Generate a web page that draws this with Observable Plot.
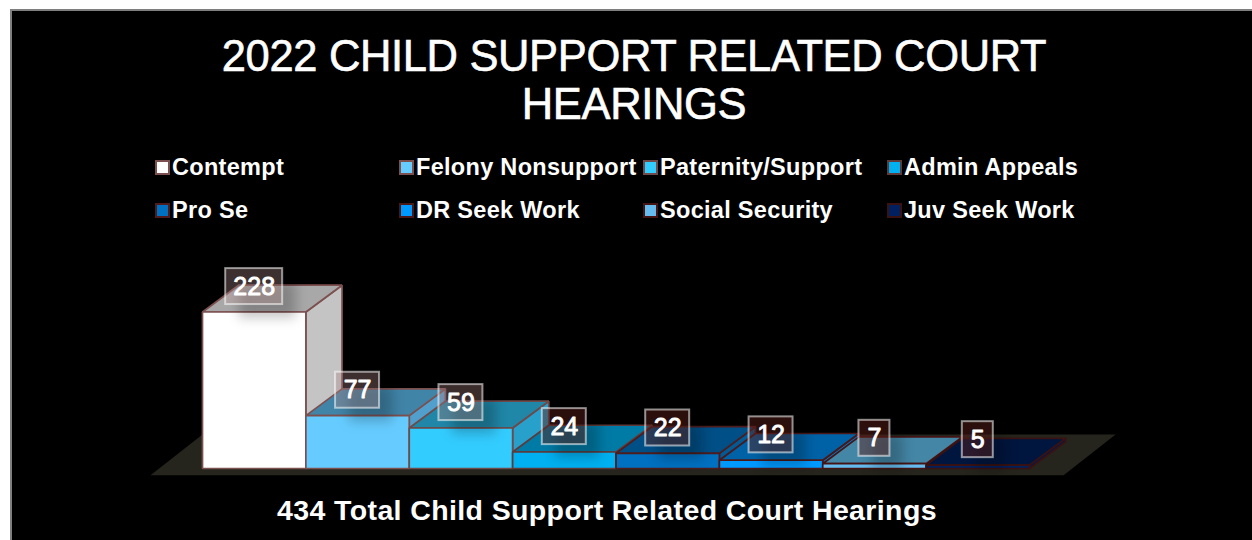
<!DOCTYPE html>
<html><head><meta charset="utf-8">
<script src="https://cdn.jsdelivr.net/npm/d3@7"></script>
<script src="https://cdn.jsdelivr.net/npm/@observablehq/plot@0.6"></script>
<style>
html,body{margin:0;padding:0;background:#fff;width:1252px;height:540px;overflow:hidden}
#panel{position:absolute;left:10px;top:9px;width:1242px;height:531px;background:#000;border-left:2px solid #7f7f7f;border-top:2px solid #7f7f7f;box-sizing:border-box;font-family:"Liberation Sans",Arial,sans-serif;color:#fff}
#title{position:absolute;left:0;top:21px;width:1244px;text-align:center;font-size:43.5px;line-height:48px;letter-spacing:-.35px;-webkit-text-stroke:.6px #fff}
#legend{position:absolute;left:143px;top:135px;display:grid;grid-template-columns:repeat(4,244px);grid-auto-rows:43px;font-weight:bold;font-size:23.5px;letter-spacing:.3px}
#legend div{display:flex;align-items:center;height:43px}
#legend i{display:block;width:11px;height:11px;border:2px solid;margin-right:2px;flex:none}
#chart{position:absolute;left:-12px;top:218px}
#caption{position:absolute;left:0;top:483px;width:1190px;text-align:center;font-weight:bold;font-size:28.5px;line-height:32px;letter-spacing:.38px}
</style></head><body>
<div id="panel">
<div id="title">2022 CHILD SUPPORT RELATED COURT<br>HEARINGS</div>
<div id="legend"></div>
<div id="chart"></div>
<div id="caption">434 Total Child Support Related Court Hearings</div>
</div>
<script>
const categories=["Contempt","Felony Nonsupport","Paternity/Support","Admin Appeals","Pro Se","DR Seek Work","Social Security","Juv Seek Work"];
const values=[228,77,59,24,22,12,7,5];
const frontColors=["#ffffff","#66ccff","#33ccff","#00b0f0","#0070c0","#0099ff","#66bbee","#002060"];
const topColors=["#a8a8a8","#4084a8","#2087a8","#007ba6","#004f86","#0062a6","#4486a6","#00163f"];
const sideColors=["#c4c4c4","#509fcc","#28a0cc","#008cc0","#005a96","#0078c8","#5095c0","#001a4c"];
const strokeColors=["#7d5050","#7d5050","#6e4a4a","#5e3a3a","#4e1c1c","#4a1818","#441414","#3a1212"];
const boxFills=["#c19b9b","#b08888","#a57d7d","#5d211b","#5d211b","#5d211b","#64211a","#5d211b"];
const boxAlphas=[0.31,0.35,0.36,0.45,0.45,0.45,0.45,0.45];

const depthX=0.35, depthY=39;           // oblique projection in data units
const boxOffset=37, boxHalfH=26.2;       // label box, in value units
const digitW=0.1257, padW=0.174;         // label box width, in band units
const floorLeft=-0.503, floorRight=8.33, floorDrop=-10, floorBack=49.5;

const legend=d3.select("#legend");
categories.forEach((c,i)=>{
  const d=legend.append("div");
  d.append("i").style("background",frontColors[i]).style("border-color",strokeColors[i]);
  d.append("span").text(c);
});

const faces=[];
const addFace=(id,fill,stroke,pts)=>pts.forEach(([x,y])=>faces.push({id,fill,stroke,x,y}));
values.forEach((v,i)=>{
  const s=strokeColors[i];
  addFace("side"+i,sideColors[i],s,[[i+1,0],[i+1,v],[i+1+depthX,v+depthY],[i+1+depthX,depthY]]);
  addFace("top"+i,topColors[i],s,[[i,v],[i+1,v],[i+1+depthX,v+depthY],[i+depthX,v+depthY]]);
  addFace("front"+i,frontColors[i],s,[[i,0],[i+1,0],[i+1,v],[i,v]]);
});
const floor=[[floorLeft,floorDrop],[floorRight,floorDrop],[floorRight+0.503,floorBack],[floorLeft+0.503,floorBack]].map(([x,y])=>({x,y}));

const labels=values.map((v,i)=>{
  const hw=(String(v).length*digitW+padW)/2;
  return {v,i,c:i+0.5,x1:i+0.5-hw,x2:i+0.5+hw,y1:v+boxOffset-boxHalfH,y2:v+boxOffset+boxHalfH};
});

const W=1252,H=256,band=103.375,x0=202,yBase=239,pxPerUnit=0.6865;
const plot=Plot.plot({
  width:W,height:H,margin:0,
  style:{background:"transparent",overflow:"visible"},
  x:{axis:null,domain:[-x0/band,(W-x0)/band],range:[0,W]},
  y:{axis:null,domain:[(yBase-H)/pxPerUnit,yBase/pxPerUnit],range:[H,0]},
  marks:[
    Plot.line(floor,{x:"x",y:"y",curve:"linear-closed",fill:"#25251d",stroke:"none"}),
    Plot.line(faces,{x:"x",y:"y",z:"id",curve:"linear-closed",fill:"fill",stroke:"stroke",strokeWidth:1.7,strokeLinejoin:"miter"}),
    Plot.rect(labels,{x1:d=>d.x1+0.13,x2:d=>d.x2+0.13,y1:d=>d.y1-20,y2:d=>d.y2-20,fill:"#000",fillOpacity:0.22,imageFilter:"blur(6px)"}),
    Plot.rect(labels,{x1:"x1",x2:"x2",y1:"y1",y2:"y2",fill:d=>boxFills[d.i],fillOpacity:d=>boxAlphas[d.i],stroke:"#ffffff",strokeOpacity:0.55,strokeWidth:2}),
    Plot.text(labels,{x:"c",y:d=>(d.y1+d.y2)/2,text:"v",fill:"#fff",stroke:"#fff",strokeWidth:0.9,fontSize:25,fontFamily:"Liberation Sans, Arial, sans-serif"})
  ]
});
document.getElementById("chart").append(plot);
</script>
</body></html>
